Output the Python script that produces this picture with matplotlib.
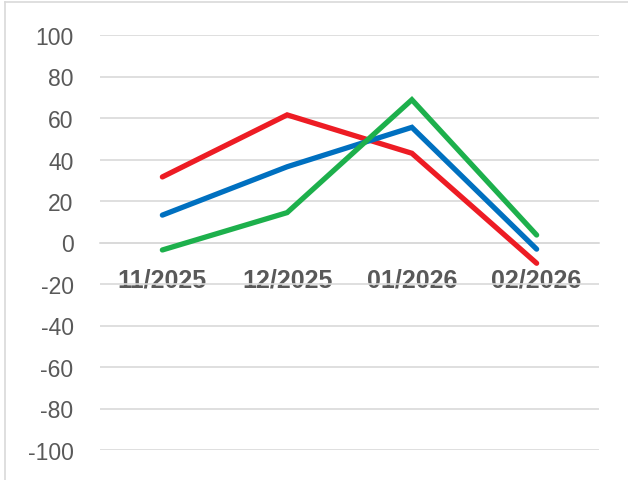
import matplotlib.pyplot as plt
from matplotlib.lines import Line2D

# Monthly values
months = ['11/2025', '12/2025', '01/2026', '02/2026']
red_vals = [31.6, 61.5, 43.0, -10.0]
blue_vals = [13.2, 36.5, 55.5, -3.2]
green_vals = [-3.6, 14.4, 68.8, 3.6]
y_ticks = list(range(-100, 101, 20))

grid_col = '#D9D9D9'
text_col = '#595959'

plt.rcParams['font.family'] = ['Liberation Sans', 'DejaVu Sans']

fig = plt.figure(figsize=(6.28, 4.81), dpi=100)
ax = fig.add_axes([100 / 628, 30 / 481, 499 / 628, 415 / 481])

# put the horizontal axis at zero first (this resets tick styling)
for s in ['top', 'right', 'left']:
    ax.spines[s].set_visible(False)
ax.spines['bottom'].set_position(('data', 0))
ax.spines['bottom'].set_color(grid_col)
ax.spines['bottom'].set_linewidth(1.2)

x = list(range(len(months)))
for vals, col in [(red_vals, '#ED1C24'), (blue_vals, '#0070C0'), (green_vals, '#1DB04C')]:
    ax.plot(x, vals, color=col, lw=3.8, solid_capstyle='round', solid_joinstyle='miter', zorder=3)

ax.set_xlim(-0.5, len(months) - 0.5)
ax.set_ylim(-100, 100)
ax.set_yticks(y_ticks)
ax.set_yticklabels([str(v) for v in y_ticks], fontsize=16.5, color=text_col)
ax.set_xticks(x)
ax.set_xticklabels(months, fontsize=18, fontweight='bold', color=text_col)

ax.grid(axis='y', color=grid_col, lw=1.2)
ax.set_axisbelow(True)
ax.tick_params(axis='y', length=0, pad=19)
ax.tick_params(axis='x', length=0, pad=18)

# outer chart border (left and top edges visible)
fig.add_artist(Line2D([5 / 628, 5 / 628], [0, 1 - 3 / 481], transform=fig.transFigure, color=grid_col, lw=1.2))
fig.add_artist(Line2D([5 / 628, 1], [1 - 3 / 481, 1 - 3 / 481], transform=fig.transFigure, color=grid_col, lw=1.2))

fig.savefig('out.png', dpi=100)
